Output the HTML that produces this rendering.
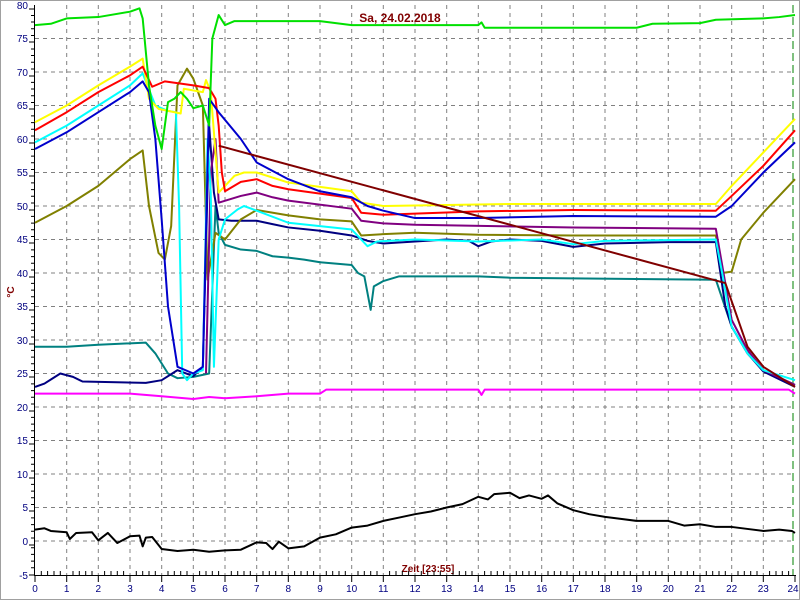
<!DOCTYPE html>
<html><head><meta charset="utf-8"><style>
html,body{margin:0;padding:0;background:#fff}
svg{display:block}
text{font-family:"Liberation Sans",sans-serif}
</style></head><body>
<svg width="800" height="600" xmlns="http://www.w3.org/2000/svg">
<rect x="0.5" y="0.5" width="799" height="599" fill="#fff" stroke="#a0a0a0"/>
<g stroke="#808080" stroke-dasharray="4,4" stroke-width="1">
<line x1="35" y1="38.5" x2="795" y2="38.5"/><line x1="35" y1="72" x2="795" y2="72"/><line x1="35" y1="105.5" x2="795" y2="105.5"/><line x1="35" y1="139" x2="795" y2="139"/><line x1="35" y1="172.5" x2="795" y2="172.5"/><line x1="35" y1="206" x2="795" y2="206"/><line x1="35" y1="239.5" x2="795" y2="239.5"/><line x1="35" y1="273" x2="795" y2="273"/><line x1="35" y1="306.5" x2="795" y2="306.5"/><line x1="35" y1="340" x2="795" y2="340"/><line x1="35" y1="373.5" x2="795" y2="373.5"/><line x1="35" y1="407" x2="795" y2="407"/><line x1="35" y1="440.5" x2="795" y2="440.5"/><line x1="35" y1="474" x2="795" y2="474"/><line x1="35" y1="507.5" x2="795" y2="507.5"/><line x1="35" y1="541" x2="795" y2="541"/>
<line x1="66.7" y1="5" x2="66.7" y2="575"/><line x1="98.3" y1="5" x2="98.3" y2="575"/><line x1="130" y1="5" x2="130" y2="575"/><line x1="161.7" y1="5" x2="161.7" y2="575"/><line x1="193.3" y1="5" x2="193.3" y2="575"/><line x1="225" y1="5" x2="225" y2="575"/><line x1="256.7" y1="5" x2="256.7" y2="575"/><line x1="288.3" y1="5" x2="288.3" y2="575"/><line x1="320" y1="5" x2="320" y2="575"/><line x1="351.7" y1="5" x2="351.7" y2="575"/><line x1="383.3" y1="5" x2="383.3" y2="575"/><line x1="415" y1="5" x2="415" y2="575"/><line x1="446.7" y1="5" x2="446.7" y2="575"/><line x1="478.3" y1="5" x2="478.3" y2="575"/><line x1="510" y1="5" x2="510" y2="575"/><line x1="541.7" y1="5" x2="541.7" y2="575"/><line x1="573.3" y1="5" x2="573.3" y2="575"/><line x1="605" y1="5" x2="605" y2="575"/><line x1="636.7" y1="5" x2="636.7" y2="575"/><line x1="668.3" y1="5" x2="668.3" y2="575"/><line x1="700" y1="5" x2="700" y2="575"/><line x1="731.7" y1="5" x2="731.7" y2="575"/><line x1="763.3" y1="5" x2="763.3" y2="575"/>
</g>
<line x1="793" y1="5" x2="793" y2="575" stroke="#008000" stroke-dasharray="8,4"/>
<g stroke="#000" stroke-width="1">
<line x1="34.5" y1="5" x2="34.5" y2="576"/><line x1="34" y1="575.5" x2="796" y2="575.5"/>
</g>
<g id="yt" stroke="#000"></g>
<g fill="#000080" font-size="10" text-anchor="end">
<text x="28" y="9">80</text><text x="28" y="42">75</text><text x="28" y="76">70</text><text x="28" y="109">65</text><text x="28" y="143">60</text><text x="28" y="176">55</text><text x="28" y="210">50</text><text x="28" y="243">45</text><text x="28" y="277">40</text><text x="28" y="310">35</text><text x="28" y="344">30</text><text x="28" y="377">25</text><text x="28" y="411">20</text><text x="28" y="444">15</text><text x="28" y="478">10</text><text x="28" y="511">5</text><text x="28" y="545">0</text><text x="28" y="579">-5</text>
</g>
<g fill="#000080" font-size="10" text-anchor="middle">
<text x="35" y="592">0</text><text x="66.7" y="592">1</text><text x="98.3" y="592">2</text><text x="130" y="592">3</text><text x="161.7" y="592">4</text><text x="193.3" y="592">5</text><text x="225" y="592">6</text><text x="256.7" y="592">7</text><text x="288.3" y="592">8</text><text x="320" y="592">9</text><text x="351.7" y="592">10</text><text x="383.3" y="592">11</text><text x="415" y="592">12</text><text x="446.7" y="592">13</text><text x="478.3" y="592">14</text><text x="510" y="592">15</text><text x="541.7" y="592">16</text><text x="573.3" y="592">17</text><text x="605" y="592">18</text><text x="636.7" y="592">19</text><text x="668.3" y="592">20</text><text x="700" y="592">21</text><text x="731.7" y="592">22</text><text x="763.3" y="592">23</text><text x="793" y="592">24</text>
</g>
<text x="400" y="22" fill="#800000" font-size="12" font-weight="bold" text-anchor="middle">Sa, 24.02.2018</text>
<text x="428" y="572" fill="#800000" font-size="10" font-weight="bold" text-anchor="middle">Zeit [23:55]</text>
<text x="14" y="292" fill="#800000" font-size="10" font-weight="bold" text-anchor="middle" transform="rotate(-90 14 292)">°C</text>
<path stroke="#000" fill="none" d="M29 9h6M29 42h6M29 76h6M29 109h6M29 143h6M29 176h6M29 210h6M29 243h6M29 277h6M29 310h6M29 344h6M29 377h6M29 411h6M29 444h6M29 478h6M29 511h6M29 545h6M29 575h6"/>
<g transform="translate(35,541) scale(31.667,-6.7)" fill="none" stroke-width="2" stroke-linejoin="round">
<polyline vector-effect="non-scaling-stroke" stroke="#ff00ff" points="0,22 3,22 4,21.6 5,21.2 5.5,21.5 6,21.3 7,21.6 8,22 9,22 9.2,22.6 14,22.6 14.1,21.8 14.2,22.6 23.8,22.6 24,22"/>
<polyline vector-effect="non-scaling-stroke" stroke="#008080" points="0,29 1,29 2,29.3 3.5,29.6 3.8,28 4.2,25 4.5,24.3 5,24.5 5.5,25 5.7,50 5.8,46 6,44.2 6.5,43.5 7,43.3 7.5,42.5 8,42.3 8.5,42 9,41.6 10,41.2 10.2,40 10.4,39.5 10.6,34.5 10.7,38 11,38.8 11.5,39.5 14,39.5 15,39.3 17,39.2 21.5,39 22,32 22.5,28 23,25.5 24,23.3"/>
<polyline vector-effect="non-scaling-stroke" stroke="#000080" points="0,23 0.3,23.5 0.8,25 1.2,24.5 1.5,23.8 3.5,23.6 4,24 4.5,25.5 5,24.6 5.3,26 5.5,62 5.65,52 5.8,48 6.2,47.8 7,47.8 7.5,47.3 8,46.8 9,46.3 10,45.6 10.5,44.8 11,44.4 12,44.7 13,45 13.7,44.8 14,44 14.4,44.7 15,45 16,44.8 17,43.9 18,44.4 20,44.6 21.5,44.6 21.8,35 22,32 22.5,28 23,25.3 24,23"/>
<polyline vector-effect="non-scaling-stroke" stroke="#808000" points="0,47.5 1,50 2,53 3,57 3.4,58.3 3.6,50 3.9,43 4.1,42 4.3,47 4.5,68 4.8,70.5 5.0,69 5.3,65 5.45,39 5.7,46 6,45 6.5,48 7,49.4 8,48.6 9,48 10,47.7 10.3,45.6 11,45.8 12,46 14,45.7 17,45.6 21.5,45.6 21.7,40 22,40.2 22.3,45 23,49 24,54"/>
<polyline vector-effect="non-scaling-stroke" stroke="#800080" points="5.4,25 5.55,55 5.7,60 5.8,50.5 6.5,51.5 7,52 7.5,51.3 8,50.8 10,49.6 10.3,47.8 11,47.4 12,47.2 17,46.8 21.5,46.6 22,33 22.5,28.5 23,25.5 24,23.3"/>
<polyline vector-effect="non-scaling-stroke" stroke="#00ffff" points="0,59.5 1,62 2,65 3,68 3.4,69.8 3.8,65 4.2,64.2 4.45,64 4.55,50 4.65,25 4.8,24 5.0,25 5.3,25.5 5.45,60 5.55,52 5.65,26 5.8,45 6,48 6.4,49.5 6.6,50 7,49.3 8,47.5 9,47 10,46.5 10.3,45 10.5,44 10.8,44.7 12,45 14,44.7 16,45 17,44.3 18,44.8 21.5,45 21.7,40 22,32 22.5,28 23,25.5 24,24"/>
<polyline vector-effect="non-scaling-stroke" stroke="#ffff00" points="0,62.5 1,65 2,68 3,70.8 3.4,72 3.6,66 3.9,64.5 4.6,63.8 4.7,67.5 5.3,67 5.4,68.8 5.55,67 5.8,52 6,53 6.3,54.5 6.6,55 7,55 8,53.5 10,52.2 10.3,50.5 11,50 15,50.3 21.5,50.3 22,53 23,58 24,63"/>
<polyline vector-effect="non-scaling-stroke" stroke="#ff0000" points="0,61.3 1,64 2,67 3,69.5 3.4,70.8 3.7,67.8 4.1,68.6 5,68 5.5,67.6 5.7,66 5.8,62 5.9,55 6,52.2 6.5,53.6 7,54 7.5,53 8,52.5 10,51.2 10.3,49 11,48.7 14,49.2 17,49.4 21.5,49.3 22,51.5 23,56 24,61.3"/>
<polyline vector-effect="non-scaling-stroke" stroke="#0000cc" points="0,58.5 1,61 2,64 3,67 3.4,68.6 3.6,67 3.8,60 4,48 4.2,35 4.5,26 5,25 5.3,26 5.5,66 5.8,64 6.5,60 7,56.5 8,54 9,52.2 10,51.3 10.5,50 11,49.3 12,48.2 14,48.2 17,48.5 21.5,48.4 22,50 23,55 24,59.5"/>
<polyline vector-effect="non-scaling-stroke" stroke="#800000" points="5.8,59 21.8,38.5 22.5,29 23,26 24,23"/>
<polyline vector-effect="non-scaling-stroke" stroke="#00e000" points="0,77 0.5,77.2 1,78 2,78.2 3,79 3.3,79.5 3.4,78 3.6,68 3.8,62 4,58.5 4.2,65.5 4.4,66 4.6,67 4.8,66 5,64.6 5.3,65 5.5,62 5.6,75 5.8,78.5 6,77 6.3,77.6 9,77.6 10,77 14,77 14.1,77.4 14.2,76.6 19,76.6 19.5,77.2 21,77.3 21.5,77.8 23,78 23.5,78.2 24,78.5"/>
<polyline vector-effect="non-scaling-stroke" stroke="#000" points="0,1.7 0.3,1.9 0.5,1.5 1,1.3 1.1,0.3 1.3,1.2 1.8,1.3 2,0.1 2.3,1.2 2.6,-0.3 3,0.7 3.3,0.8 3.4,-0.8 3.5,0.5 3.7,0.6 4,-1.2 4.5,-1.5 5,-1.3 5.5,-1.6 6,-1.4 6.5,-1.3 7,-0.2 7.3,-0.3 7.5,-1.2 7.7,-0.1 8,-1.1 8.5,-0.8 9,0.5 9.5,1 10,2 10.5,2.3 11,3 11.5,3.5 12,4 12.5,4.4 13,5 13.5,5.5 14,6.6 14.3,6.2 14.5,7 15,7.2 15.3,6.4 15.6,6.8 16,6.3 16.2,6.8 16.5,5.6 17,4.6 17.5,4 18,3.6 18.5,3.3 19,3 20,3 20.5,2.3 21,2.5 21.5,2.1 22,2.1 22.5,1.8 23,1.5 23.5,1.7 23.9,1.5 24,1.2"/>
</g>
<path stroke="#000" fill="none" d="M41.3 575v-4M47.6 575v-4M54 575v-4M60.3 575v-4M73 575v-4M79.3 575v-4M85.7 575v-4M92 575v-4M104.6 575v-4M111 575v-4M117.3 575v-4M123.6 575v-4M136.3 575v-4M142.7 575v-4M149 575v-4M155.3 575v-4M168 575v-4M174.3 575v-4M180.7 575v-4M187 575v-4M199.6 575v-4M206 575v-4M212.3 575v-4M218.6 575v-4M231.3 575v-4M237.7 575v-4M244 575v-4M250.3 575v-4M263 575v-4M269.3 575v-4M275.7 575v-4M282 575v-4M294.6 575v-4M301 575v-4M307.3 575v-4M313.6 575v-4M326.3 575v-4M332.7 575v-4M339 575v-4M345.3 575v-4M358 575v-4M364.3 575v-4M370.7 575v-4M377 575v-4M389.6 575v-4M396 575v-4M402.3 575v-4M408.6 575v-4M421.3 575v-4M427.7 575v-4M434 575v-4M440.3 575v-4M453 575v-4M459.3 575v-4M465.7 575v-4M472 575v-4M484.6 575v-4M491 575v-4M497.3 575v-4M503.6 575v-4M516.3 575v-4M522.7 575v-4M529 575v-4M535.3 575v-4M548 575v-4M554.3 575v-4M560.7 575v-4M567 575v-4M579.6 575v-4M586 575v-4M592.3 575v-4M598.6 575v-4M611.3 575v-4M617.7 575v-4M624 575v-4M630.3 575v-4M643 575v-4M649.3 575v-4M655.7 575v-4M662 575v-4M674.6 575v-4M681 575v-4M687.3 575v-4M693.6 575v-4M706.3 575v-4M712.7 575v-4M719 575v-4M725.3 575v-4M738 575v-4M744.3 575v-4M750.7 575v-4M757 575v-4M769.6 575v-4M776 575v-4M782.3 575v-4M788.6 575v-4M35 575v7M66.7 575v7M98.3 575v7M130 575v7M161.7 575v7M193.3 575v7M225 575v7M256.7 575v7M288.3 575v7M320 575v7M351.7 575v7M383.3 575v7M415 575v7M446.7 575v7M478.3 575v7M510 575v7M541.7 575v7M573.3 575v7M605 575v7M636.7 575v7M668.3 575v7M700 575v7M731.7 575v7M763.3 575v7M795 575v7"/>
<path stroke="#000" fill="none" d="M31 15.5h4M31 22h4M31 28.8h4M31 35.5h4M31 49h4M31 55.5h4M31 62.2h4M31 69h4M31 82.4h4M31 89h4M31 95.8h4M31 102.5h4M31 115.9h4M31 122.6h4M31 129.3h4M31 136h4M31 149.4h4M31 156.1h4M31 162.8h4M31 169.5h4M31 182.9h4M31 189.6h4M31 196.3h4M31 203h4M31 216.4h4M31 223.1h4M31 229.8h4M31 236.5h4M31 249.9h4M31 256.6h4M31 263.3h4M31 270h4M31 283.4h4M31 290.1h4M31 296.8h4M31 303.5h4M31 316.9h4M31 323.6h4M31 330.3h4M31 337h4M31 350.4h4M31 357.1h4M31 363.8h4M31 370.5h4M31 383.9h4M31 390.6h4M31 397.3h4M31 404h4M31 417.4h4M31 424.1h4M31 430.8h4M31 437.5h4M31 450.9h4M31 457.6h4M31 464.3h4M31 471h4M31 484.4h4M31 491.1h4M31 497.8h4M31 504.5h4M31 517.9h4M31 524.6h4M31 531.3h4M31 538h4M31 547.7h4M31 554.4h4M31 561.1h4M31 567.8h4"/>
</svg>
</body></html>
